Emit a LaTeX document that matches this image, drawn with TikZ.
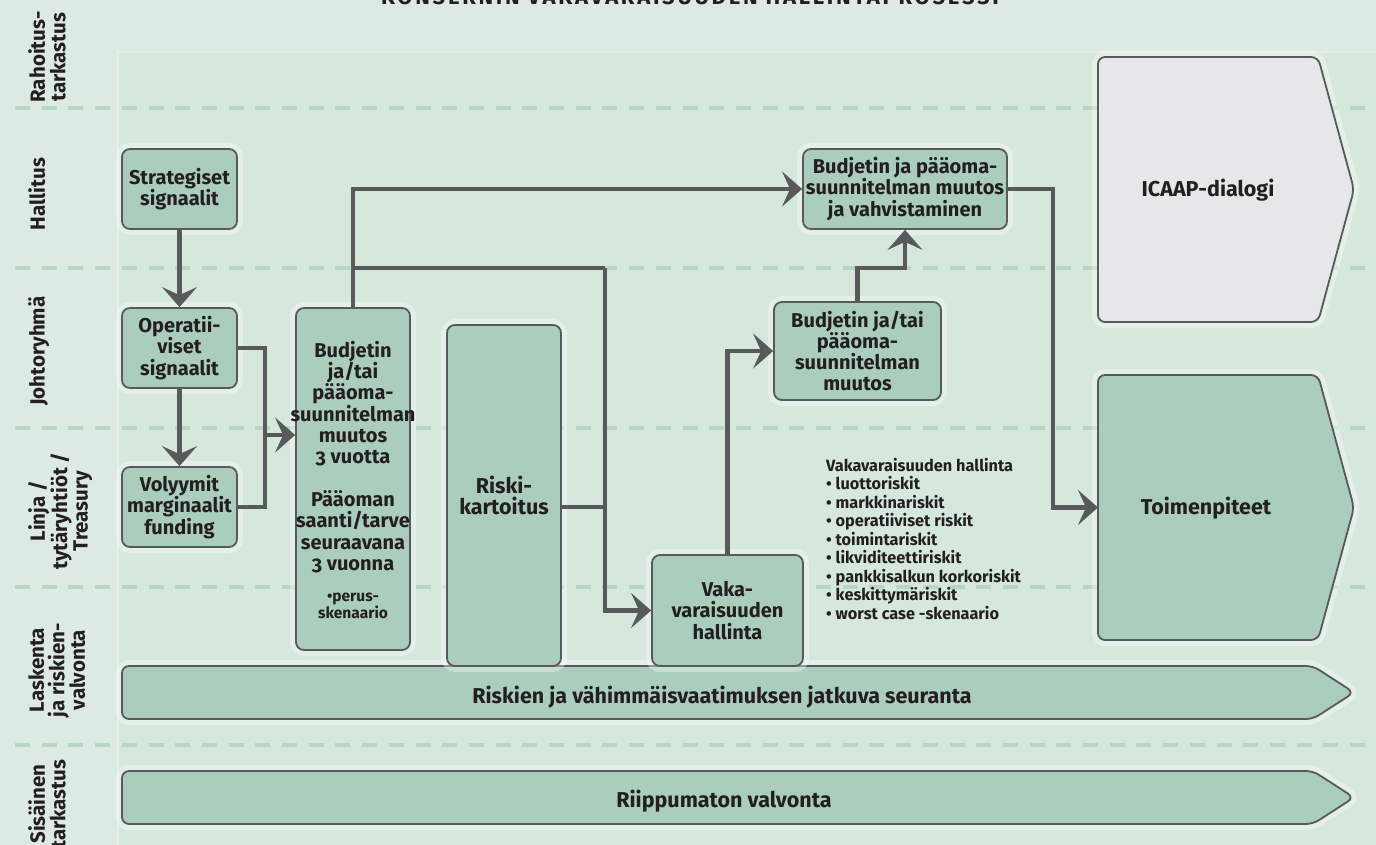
\documentclass[tikz,border=0pt]{standalone}
\usepackage{fontspec}
\setmainfont{Fira Sans}[Numbers=OldStyle]
\usetikzlibrary{arrows.meta,calc}
\definecolor{bgc}{HTML}{DDEAE1}
\definecolor{innerc}{HTML}{D6E7DB}
\definecolor{innerl}{HTML}{E4EFE8}
\definecolor{boxc}{HTML}{ABCDBC}
\definecolor{grayc}{HTML}{E6E7E8}
\definecolor{linec}{HTML}{58595B}
\definecolor{dashc}{HTML}{B7D7C4}
\definecolor{txtc}{HTML}{231F20}
\tikzset{
  box/.style={draw=linec, line width=1.8pt, fill=boxc, rounded corners=8pt,
    align=center, inner sep=0pt, text=txtc,
    preaction={draw=white, draw opacity=0.35, line width=12pt}},
  shapebox/.style={draw=linec, line width=1.8pt, rounded corners=7pt,
    preaction={draw=white, draw opacity=0.35, line width=12pt}},
  conn/.style={draw=linec, line width=4.5pt},
  arr/.style={conn, -{Stealth[length=20pt,width=35pt,inset=8pt]}},
  lanelabel/.style={rotate=90, anchor=north, align=center, inner sep=0pt, text=txtc,
    font=\bfseries\fontsize{20.5}{20.5}\selectfont},
  lanedash/.style={draw=dashc, line width=3.6pt, dash pattern=on 15pt off 11.7pt},
  plain/.style={align=center, inner sep=0pt, text=txtc},
  bigtext/.style={plain, anchor=base, font=\bfseries\fontsize{21.5}{23}\selectfont},
}
\begin{document}
\begin{tikzpicture}[x=1pt, y=-1pt, font=\bfseries\fontsize{20}{21.3}\selectfont]
\useasboundingbox (0,0) rectangle (1376,845);
\fill[bgc] (0,0) rectangle (1376,845);
\fill[innerc] (118,52) rectangle (1376,845);
\draw[innerl, line width=1.2pt] (118,845) -- (118,52) -- (1376,52);
\foreach \yy in {108,268,428,587,745} \draw[lanedash] (15,\yy) -- (1376,\yy);

% title
\node[plain, anchor=base, font=\bfseries\fontsize{22}{24}\selectfont\addfontfeature{LetterSpace=12.5}] (title) at (690,5) {KONSERNIN VAKAVARAISUUDEN HALLINTAPROSESSI};

% lane labels
\node[lanelabel] (l0) at (28,57) {Rahoitus-\\tarkastus};
\node[lanelabel] (l1) at (28,194) {Hallitus};
\node[lanelabel] (l2) at (28,351) {Johtoryhmä};
\node[lanelabel] (l3) at (28,511) {Linja /\\tytäryhtiöt /\\Treasury};
\node[lanelabel] (l4) at (28,670) {Laskenta\\ja riskien-\\valvonta};
\node[lanelabel] (l5) at (28,804) {Sisäinen\\tarkastus};

% right shapes
\draw[shapebox, fill=grayc] (1098,57) -- (1318,57) -- (1354,189.5) -- (1318,322) -- (1098,322) -- cycle;
\node[bigtext] (icaap) at (1208,197) {ICAAP-dialogi};
\draw[shapebox, fill=boxc] (1098,375) -- (1318,375) -- (1354,507.5) -- (1318,640) -- (1098,640) -- cycle;
\node[bigtext] (toim) at (1206,514.5) {Toimenpiteet};
\coordinate (toimW) at (1098,507.5);

% bars
\draw[shapebox, fill=boxc] (122,666) -- (1313,666) -- (1354,692.5) -- (1313,719) -- (122,719) -- cycle;
\node[bigtext] (riskien) at (722,703.5) {Riskien ja vähimmäisvaatimuksen jatkuva seuranta};
\draw[shapebox, fill=boxc] (122,771) -- (1313,771) -- (1354,797.5) -- (1313,824) -- (122,824) -- cycle;
\node[bigtext] (riipp) at (724,807.5) {Riippumaton valvonta};

% boxes
\node[box, minimum width=115, minimum height=80] (strat) at (179.5,189) {Strategiset\\signaalit};
\node[box, minimum width=115, minimum height=80] (oper) at (179.5,348) {Operatii-\\viset\\signaalit};
\node[box, minimum width=115, minimum height=80] (vol) at (179.5,507) {Volyymit\\marginaalit\\funding};
\node[box, minimum width=114, minimum height=342] (budj) at (353,479) {};
\node[plain] (budjt) at (353,457) {Budjetin\\ja/tai\\pääoma-\\suunnitelman\\muutos\\3 vuotta\\[21.3pt]Pääoman\\saanti/tarve\\seuraavana\\3 vuonna};
\node[plain, font=\bfseries\fontsize{15.5}{12.5}\selectfont] (perus) at (353,606) {•perus-\\skenaario};
\node[box, minimum width=114, minimum height=341, font=\bfseries\fontsize{21.5}{21.5}\selectfont] (risk) at (504,495.5) {Riski-\\kartoitus};
\node[box, minimum width=151, minimum height=111] (vaka) at (727.5,610.5) {Vaka-\\varaisuuden\\hallinta};
\node[box, minimum width=167, minimum height=98] (bjt) at (857.5,351) {Budjetin ja/tai\\pääoma-\\suunnitelman\\muutos};
\node[box, minimum width=204, minimum height=80] (bjv) at (905,189) {Budjetin ja pääoma-\\suunnitelman muutos\\ja vahvistaminen};

% list
\node[anchor=north west, align=left, inner sep=0pt, text=txtc, font=\bfseries\fontsize{16.3}{18.5}\selectfont] (list) at (826,458) {Vakavaraisuuden hallinta\\• luottoriskit\\• markkinariskit\\• operatiiviset riskit\\• toimintariskit\\• likviditeettiriskit\\• pankkisalkun korkoriskit\\• keskittymäriskit\\• worst case -skenaario};

% connectors
\coordinate (j1) at (265,435);
\coordinate (j2) at (353,268);
\coordinate (j3) at (605,268);
\coordinate (j4) at (605,507);
\coordinate (kink) at (905,268);
\coordinate (j5) at (1053,189);
\draw[arr] (strat.south) -- (oper.north);
\draw[arr] (oper.south) -- (vol.north);
\draw[conn] (oper.east) -| (j1);
\draw[conn] (vol.east) -| (j1);
\draw[arr] (j1) -- (budj.west |- j1);
\draw[arr] (budj.north) |- (bjv.west);
\draw[conn] (j2) -- (j3);
\draw[arr] (j3) |- (vaka.west);
\draw[conn] (risk.east |- j4) -- (j4);
\draw[arr] (vaka.north) |- (bjt.west);
\draw[arr] (bjt.north) |- (kink) -- (bjv.south);
\draw[arr] (bjv.east) -| (j5) |- (toimW);
\end{tikzpicture}
\end{document}
